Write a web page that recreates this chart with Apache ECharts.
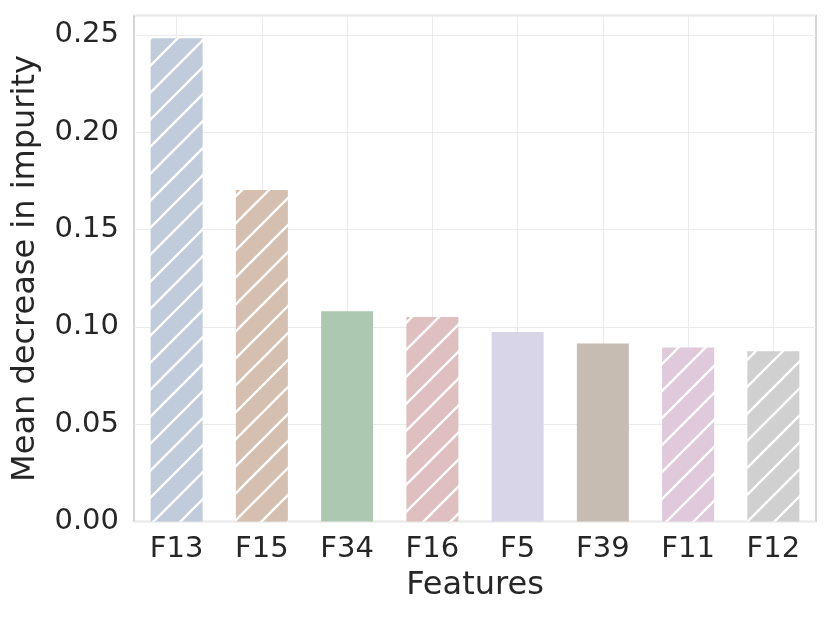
<!DOCTYPE html>
<html>
<head>
<meta charset="utf-8">
<script src="https://cdn.jsdelivr.net/npm/echarts@6/dist/echarts.min.js"></script>
<style>
html,body{margin:0;padding:0;background:#fff;}
#chart{width:830px;height:618px;}
</style>
</head>
<body>
<div id="chart"></div>
<script>
// ---- data ----
const categories = ['F13', 'F15', 'F34', 'F16', 'F5', 'F39', 'F11', 'F12'];
const values = [0.2483, 0.1703, 0.1080, 0.1051, 0.0974, 0.0914, 0.0894, 0.0875];
const yTicks = [0, 0.05, 0.10, 0.15, 0.20, 0.25];

// ---- styles ----
const barColors = ['#c0ccdb', '#d5bfb0', '#adc8b0', '#e0bfc0', '#d8d5e8', '#c6bcb2', '#e0c9db', '#d0d0d0'];
const hatched = [true, true, false, true, false, false, true, true];

function hatch(bg) {
  const s = 27;
  const c = document.createElement('canvas');
  c.width = s; c.height = s;
  const g = c.getContext('2d');
  g.fillStyle = bg; g.fillRect(0, 0, s, s);
  g.strokeStyle = '#ffffff'; g.lineWidth = 2.3;
  g.beginPath();
  g.moveTo(-3, s + 3); g.lineTo(s + 3, -3);
  g.moveTo(-3, 3); g.lineTo(3, -3);
  g.moveTo(s - 3, s + 3); g.lineTo(s + 3, s - 3);
  g.stroke();
  return c;
}

const seriesData = values.map((v, i) => ({
  value: v,
  itemStyle: {
    color: hatched[i] ? { image: hatch(barColors[i]), repeat: 'repeat' } : barColors[i]
  }
}));

const txt = '#262626';
const font = 'DejaVu Sans';
const chart = echarts.init(document.getElementById('chart'), null, { renderer: 'canvas' });
chart.setOption({
  animation: false,
  backgroundColor: '#ffffff',
  grid: {
    left: 134, top: 15.5, width: 682, height: 506,
    show: true, borderColor: '#c8c8c8', borderWidth: 1.5, backgroundColor: '#ffffff'
  },
  xAxis: {
    type: 'category',
    data: categories,
    axisLine: { show: false },
    axisTick: { show: false, alignWithLabel: true },
    axisLabel: { color: txt, fontFamily: font, fontSize: 29, margin: 13 },
    splitLine: { show: true, alignWithLabel: true, lineStyle: { color: '#ebebeb', width: 1 } },
    name: 'Features',
    nameLocation: 'middle',
    nameGap: 48,
    nameTextStyle: { color: txt, fontFamily: font, fontSize: 32 }
  },
  yAxis: {
    type: 'value',
    min: 0, max: 0.26, interval: 0.05,
    axisLine: { show: false },
    axisTick: { show: false },
    axisLabel: {
      color: txt, fontFamily: font, fontSize: 29, margin: 15, showMaxLabel: false,
      formatter: v => (yTicks.some(t => Math.abs(t - v) < 1e-9) ? v.toFixed(2) : '')
    },
    splitLine: { show: true, lineStyle: { color: '#ebebeb', width: 1 } },
    name: 'Mean decrease in impurity',
    nameLocation: 'middle',
    nameGap: 92,
    nameTextStyle: { color: txt, fontFamily: font, fontSize: 32 }
  },
  series: [{
    type: 'bar',
    data: seriesData,
    barWidth: 52,
    silent: true
  }]
});
</script>
</body>
</html>
